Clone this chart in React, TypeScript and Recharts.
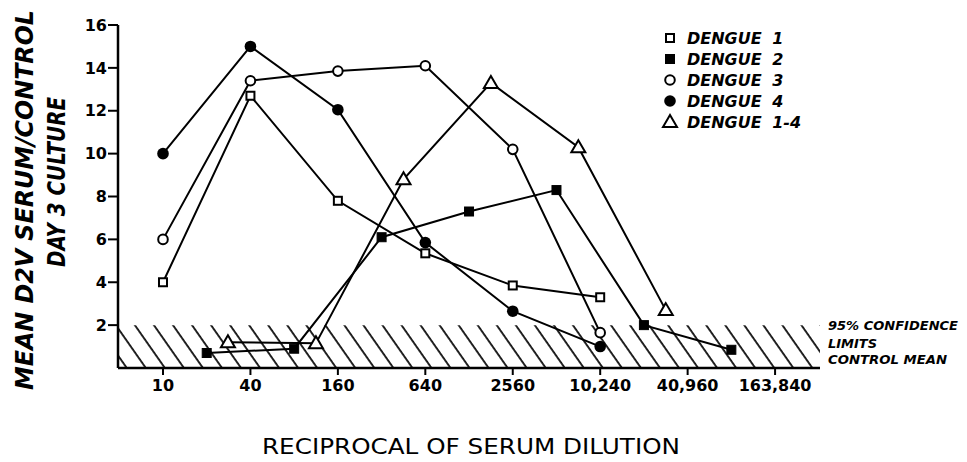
import React from 'react';
import { LineChart, Line, XAxis, YAxis, ReferenceArea } from 'recharts';

// ---- data ----
const xTicks = [10, 40, 160, 640, 2560, 10240, 40960, 163840];
const xTickLabels = ['10', '40', '160', '640', '2560', '10,240', '40,960', '163,840'];
const yTicks = [2, 4, 6, 8, 10, 12, 14, 16];

const dengue1Dilution = [10, 40, 160, 640, 2560, 10240];
const dengue1Ratio = [4.0, 12.7, 7.8, 5.35, 3.85, 3.3];

const dengue2Dilution = [20, 80, 320, 1280, 5120, 20480, 81920];
const dengue2Ratio = [0.7, 0.9, 6.1, 7.3, 8.3, 2.0, 0.85];

const dengue3Dilution = [10, 40, 160, 640, 2560, 10240];
const dengue3Ratio = [6.0, 13.4, 13.85, 14.1, 10.2, 1.65];

const dengue4Dilution = [10, 40, 160, 640, 2560, 10240];
const dengue4Ratio = [10.0, 15.0, 12.05, 5.85, 2.65, 1.0];

const dengue14Dilution = [28, 113, 453, 1810, 7240, 28960];
const dengue14Ratio = [1.2, 1.15, 8.8, 13.3, 10.3, 2.7];

const seriesNames = ['DENGUE 1', 'DENGUE 2', 'DENGUE 3', 'DENGUE 4', 'DENGUE 1-4'];
const markerKinds = ['openSquare', 'filledSquare', 'openCircle', 'filledCircle', 'triangle'];

const controlLimit = 2;
const confidenceLabels = ['95% CONFIDENCE', 'LIMITS', 'CONTROL MEAN'];

const toPoints = (xs: number[], ys: number[]) => xs.map((x, i) => ({ x, y: ys[i] }));

const series = [
  toPoints(dengue1Dilution, dengue1Ratio),
  toPoints(dengue2Dilution, dengue2Ratio),
  toPoints(dengue3Dilution, dengue3Ratio),
  toPoints(dengue4Dilution, dengue4Ratio),
  toPoints(dengue14Dilution, dengue14Ratio),
];

const FONT = "'DejaVu Sans', sans-serif";

function Marker({ cx, cy, kind }: { cx: number; cy: number; kind: string }) {
  if (cx == null || cy == null) return null;
  switch (kind) {
    case 'openSquare':
      return <rect x={cx - 4} y={cy - 4} width={8} height={8} fill="#fff" stroke="#000" strokeWidth={2} />;
    case 'filledSquare':
      return <rect x={cx - 4.5} y={cy - 4.5} width={9} height={9} fill="#000" stroke="#000" strokeWidth={1} />;
    case 'openCircle':
      return <circle cx={cx} cy={cy} r={4.8} fill="#fff" stroke="#000" strokeWidth={2} />;
    case 'filledCircle':
      return <circle cx={cx} cy={cy} r={5.8} fill="#000" />;
    default:
      return (
        <polygon
          points={`${cx},${cy - 7} ${cx - 7},${cy + 5} ${cx + 7},${cy + 5}`}
          fill="#fff"
          stroke="#000"
          strokeWidth={2}
          strokeLinejoin="miter"
        />
      );
  }
}

export default function App() {
  return (
    <div style={{ position: 'absolute', left: 0, top: 0, width: 967, height: 462, background: '#fff' }}>
      <LineChart
        width={967}
        height={462}
        margin={{ top: 25, right: 147, bottom: 64, left: 58 }}
      >
        <defs>
          <pattern
            id="hatch"
            patternUnits="userSpaceOnUse"
            width={15.6}
            height={40}
            patternTransform="rotate(-35)"
          >
            <line x1={2} y1={0} x2={2} y2={40} stroke="#000" strokeWidth={1.7} />
          </pattern>
        </defs>
        <ReferenceArea y1={0} y2={controlLimit} fill="url(#hatch)" fillOpacity={1} stroke="none" ifOverflow="extendDomain" />
        <XAxis
          dataKey="x"
          type="number"
          scale="log"
          domain={[4.9, 334000]}
          allowDataOverflow
          ticks={xTicks}
          interval={0}
          tickFormatter={(v: number) => xTickLabels[xTicks.indexOf(v)] ?? String(v)}
          height={30}
          tickSize={7}
          tickMargin={5}
          axisLine={{ stroke: '#000', strokeWidth: 2.5 }}
          tickLine={{ stroke: '#000', strokeWidth: 2 }}
          tick={{ fill: '#000', fontSize: 16, fontWeight: 'bold', fontFamily: FONT }}
        />
        <YAxis
          dataKey="y"
          type="number"
          domain={[0, 16]}
          ticks={yTicks}
          interval={0}
          width={60}
          tickSize={10}
          tickMargin={1}
          axisLine={{ stroke: '#000', strokeWidth: 2.5 }}
          tickLine={{ stroke: '#000', strokeWidth: 2 }}
          tick={{ fill: '#000', fontSize: 16, fontWeight: 'bold', fontFamily: FONT }}
        />
        {series.map((data, i) => (
          <Line
            key={seriesNames[i]}
            data={data}
            dataKey="y"
            name={seriesNames[i]}
            type="linear"
            stroke="#000"
            strokeWidth={2}
            isAnimationActive={false}
            dot={(p: any) => <Marker key={`${i}-${p.index}`} cx={p.cx} cy={p.cy} kind={markerKinds[i]} />}
            activeDot={false}
          />
        ))}
      </LineChart>
      <svg
        width={967}
        height={462}
        style={{ position: 'absolute', left: 0, top: 0, pointerEvents: 'none' }}
      >
        <g fontFamily={FONT} fill="#000">
          <text
            transform="translate(25,200) rotate(-90)"
            textAnchor="middle"
            dominantBaseline="central"
            fontSize={24}
            fontWeight="bold"
            fontStyle="italic"
            textLength={380}
            lengthAdjust="spacingAndGlyphs"
          >
            MEAN D2V SERUM/CONTROL
          </text>
          <text
            transform="translate(57,182) rotate(-90)"
            textAnchor="middle"
            dominantBaseline="central"
            fontSize={24}
            fontWeight="bold"
            fontStyle="italic"
            textLength={170}
            lengthAdjust="spacingAndGlyphs"
          >
            DAY 3 CULTURE
          </text>
          <text
            x={471}
            y={447}
            textAnchor="middle"
            dominantBaseline="central"
            fontSize={21}
            textLength={418}
            lengthAdjust="spacingAndGlyphs"
          >
            RECIPROCAL OF SERUM DILUTION
          </text>
          {seriesNames.map((name, i) => (
            <g key={name}>
              <Marker cx={670} cy={38 + i * 21} kind={markerKinds[i]} />
              <text
                x={687}
                y={38 + i * 21}
                dominantBaseline="central"
                fontSize={16}
                fontWeight="bold"
                fontStyle="italic"
                wordSpacing={5}
              >
                {name}
              </text>
            </g>
          ))}
          {confidenceLabels.map((t, i) => (
            <text
              key={t}
              x={828}
              y={[325, 343, 359][i]}
              dominantBaseline="central"
              fontSize={13}
              fontWeight="bold"
              fontStyle="italic"
              textLength={[130, 49, 119][i]}
              lengthAdjust="spacingAndGlyphs"
            >
              {t}
            </text>
          ))}
        </g>
      </svg>
    </div>
  );
}
